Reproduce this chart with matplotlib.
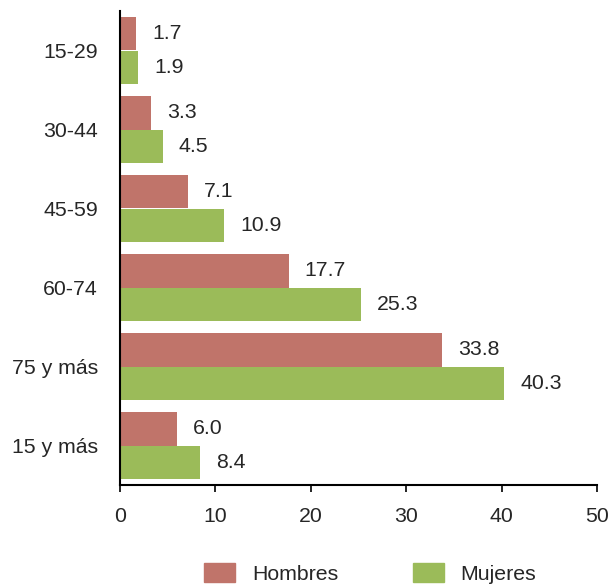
import matplotlib
matplotlib.use("Agg")
import matplotlib.pyplot as plt
import numpy as np
from matplotlib.patches import Patch

categories = ["15-29", "30-44", "45-59", "60-74", "75 y más", "15 y más"]
hombres = [1.7, 3.3, 7.1, 17.7, 33.8, 6.0]
mujeres = [1.9, 4.5, 10.9, 25.3, 40.3, 8.4]
series_names = ["Hombres", "Mujeres"]
xticks = [0, 10, 20, 30, 40, 50]

c_h = "#C0746A"
c_m = "#9BBB59"
txt = "#262626"
fs = 15.3

plt.rcParams['font.family'] = ['Liberation Sans', 'DejaVu Sans']

fig = plt.figure(figsize=(6.10, 5.88), dpi=100)
ax = fig.add_axes([120/610, 1-485/588, 477/610, 474/588])

n = len(categories)
y = np.arange(n)
h = 0.43
ax.barh(y - h/2, hombres, height=h, color=c_h)
ax.barh(y + h/2, mujeres, height=h, color=c_m)

for yi, v in zip(y, hombres):
    ax.annotate(f"{v:.1f}", (v, yi - h/2), xytext=(16, 0), textcoords="offset pixels",
                va="center", ha="left", fontsize=fs, color=txt)
for yi, v in zip(y, mujeres):
    ax.annotate(f"{v:.1f}", (v, yi + h/2), xytext=(16, 0), textcoords="offset pixels",
                va="center", ha="left", fontsize=fs, color=txt)

ax.set_ylim(n - 0.5, -0.5)
ax.set_xlim(0, 50)
ax.set_xticks(xticks)
ax.set_yticks(y)
ax.set_yticklabels(categories)
ax.tick_params(axis='y', length=0, pad=16, labelsize=fs, labelcolor=txt)
ax.tick_params(axis='x', length=5, width=1.2, pad=11, labelsize=fs, labelcolor=txt, direction='out')
for s in ["top", "right"]:
    ax.spines[s].set_visible(False)
for s in ["left", "bottom"]:
    ax.spines[s].set_linewidth(1.5)
    ax.spines[s].set_color("black")

handles = [Patch(color=c_h, label=series_names[0]), Patch(color=c_m, label=series_names[1])]
fig.legend(handles=handles, loc="upper center", bbox_to_anchor=(0.607, 0.042), ncol=2,
           frameon=False, fontsize=fs, handlelength=1.45, handleheight=1.0,
           handletextpad=0.8, columnspacing=3.5, labelcolor=txt, borderpad=0, borderaxespad=0)

fig.savefig("out.png", dpi=100)
